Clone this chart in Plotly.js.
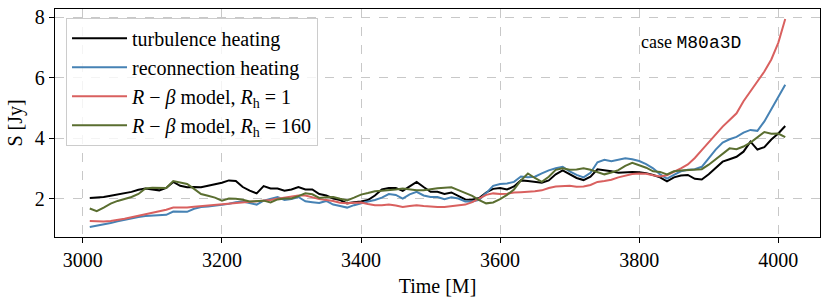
<!DOCTYPE html>
<html>
<head>
<meta charset="utf-8">
<script src="https://cdn.plot.ly/plotly-3.0.1.min.js"></script>
<style>html,body{margin:0;padding:0;background:#fff;}#chart{width:830px;height:301px;}</style>
</head>
<body>
<div id="chart"></div>
<script>
const times = [3010,3020,3030,3040,3050,3060,3070,3080,3090,3100,3110,3120,3130,3140,3150,3160,3170,3180,3190,3200,3210,3220,3230,3240,3250,3260,3270,3280,3290,3300,3310,3320,3330,3340,3350,3360,3370,3380,3390,3400,3410,3420,3430,3440,3450,3460,3470,3480,3490,3500,3510,3520,3530,3540,3550,3560,3570,3580,3590,3600,3610,3620,3630,3640,3650,3660,3670,3680,3690,3700,3710,3720,3730,3740,3750,3760,3770,3780,3790,3800,3810,3820,3830,3840,3850,3860,3870,3880,3890,3900,3910,3920,3930,3940,3950,3960,3970,3980,3990,4000,4010];

const turbulence = [2.02,2.03,2.05,2.09,2.13,2.17,2.22,2.29,2.33,2.30,2.27,2.35,2.55,2.42,2.37,2.38,2.37,2.42,2.47,2.52,2.60,2.58,2.38,2.26,2.17,2.41,2.33,2.33,2.26,2.30,2.38,2.30,2.30,2.15,2.10,2.00,1.95,1.84,1.88,1.90,1.95,2.10,2.30,2.35,2.35,2.25,2.40,2.55,2.38,2.22,2.22,2.15,2.20,2.08,1.97,1.96,2.02,2.20,2.32,2.35,2.30,2.40,2.60,2.58,2.55,2.52,2.60,2.80,2.93,2.80,2.68,2.61,2.72,2.97,2.94,2.90,2.85,2.87,2.88,2.87,2.84,2.78,2.70,2.57,2.70,2.76,2.78,2.65,2.63,2.80,3.02,3.22,3.30,3.38,3.55,3.88,3.62,3.70,3.95,4.15,4.40];

const reconnection = [1.06,1.10,1.14,1.19,1.25,1.30,1.35,1.39,1.42,1.43,1.44,1.46,1.57,1.56,1.56,1.66,1.72,1.74,1.76,1.79,1.83,1.88,1.90,1.85,1.80,1.93,1.98,2.05,1.95,1.98,2.05,1.91,1.88,1.85,1.92,1.80,1.75,1.70,1.78,1.85,1.90,1.95,2.03,2.15,2.12,2.00,2.14,2.22,2.10,2.05,2.05,1.98,2.04,2.00,1.90,1.90,1.96,2.18,2.42,2.48,2.50,2.55,2.73,2.70,2.72,2.83,2.93,3.00,3.05,2.90,2.78,2.70,2.85,3.20,3.28,3.23,3.27,3.33,3.30,3.24,3.14,3.00,2.80,2.66,2.78,2.90,2.95,2.97,3.05,3.35,3.62,3.85,3.96,4.04,4.18,4.27,4.24,4.55,4.95,5.35,5.76];

const rbeta1 = [1.26,1.24,1.24,1.26,1.29,1.33,1.38,1.43,1.47,1.52,1.57,1.63,1.70,1.70,1.70,1.73,1.75,1.76,1.77,1.79,1.81,1.83,1.85,1.87,1.89,1.92,1.95,1.99,2.03,2.07,2.10,2.10,2.04,1.98,1.95,1.92,1.86,1.84,1.86,1.87,1.82,1.78,1.78,1.80,1.77,1.72,1.75,1.78,1.75,1.73,1.72,1.72,1.74,1.76,1.80,1.88,2.00,2.12,2.17,2.15,2.16,2.20,2.21,2.22,2.24,2.27,2.35,2.40,2.42,2.42,2.39,2.40,2.45,2.55,2.58,2.62,2.70,2.76,2.81,2.83,2.82,2.77,2.73,2.77,2.88,3.00,3.13,3.34,3.60,3.87,4.12,4.38,4.60,4.82,5.22,5.55,5.85,6.20,6.60,7.15,7.94];

const rbeta160 = [1.67,1.58,1.70,1.83,1.92,1.99,2.05,2.15,2.33,2.36,2.35,2.35,2.58,2.53,2.48,2.32,2.15,2.09,2.03,1.93,2.00,1.99,1.96,1.90,1.92,1.93,1.87,1.97,2.00,2.00,2.08,2.17,2.14,2.02,2.04,2.05,1.99,1.94,2.03,2.13,2.18,2.24,2.26,2.27,2.30,2.33,2.29,2.27,2.27,2.31,2.34,2.36,2.37,2.28,2.18,2.09,1.95,1.84,1.87,1.98,2.12,2.30,2.60,2.83,2.68,2.55,2.72,2.95,3.00,2.95,2.96,3.00,2.95,2.87,2.80,2.86,2.94,3.08,3.18,3.10,3.02,2.90,2.88,2.80,2.90,2.93,2.94,2.94,2.97,3.12,3.30,3.48,3.66,3.63,3.72,3.85,4.02,4.20,4.14,4.15,4.03];

const seriesNames = ['turbulence heating','reconnection heating','<i>R</i> − <i>β</i> model, <i>R</i><sub>h</sub> = 1','<i>R</i> − <i>β</i> model, <i>R</i><sub>h</sub> = 160'];
const seriesColors = ['#000000','#4682b4','#d9605f','#5a6e30'];
const seriesData = [turbulence, reconnection, rbeta1, rbeta160];
const xTicks = [3000,3200,3400,3600,3800,4000];
const yTicks = [2,4,6,8];

const serif = 'Liberation Serif';

const traces = seriesData.map((d,i)=>({
  x: times, y: d, type:'scatter', mode:'lines', name: seriesNames[i],
  legendgroup: 'g'+i,
  line:{color: seriesColors[i], width:2}
}));

const layout = {
  width:830, height:301,
  margin:{l:55, r:10, t:9, b:64},
  paper_bgcolor:'#fff', plot_bgcolor:'#fff',
  font:{family:serif, size:20, color:'#000'},
  showlegend:true,
  legend:{x:0.0144, y:0.962, xanchor:'left', yanchor:'top',
    bgcolor:'rgba(255,255,255,0.8)', bordercolor:'#cccccc', borderwidth:1,
    font:{size:20}, tracegroupgap:0, itemwidth:55},
  xaxis:{range:[2960,4060], tickvals:xTicks, ticks:'outside', ticklen:5, tickwidth:1, tickcolor:'#000',
    showline:true, linecolor:'#000', linewidth:1.2, mirror:true, zeroline:false,
    showgrid:true, gridcolor:'#c8c8c8', griddash:'dash', gridwidth:1,
    title:{text:'Time [M]', font:{size:20}, standoff:8}},
  yaxis:{range:[0.727,8.27], tickvals:yTicks, ticks:'outside', ticklen:5, tickwidth:1, tickcolor:'#000',
    showline:true, linecolor:'#000', linewidth:1.2, mirror:true, zeroline:false,
    showgrid:true, gridcolor:'#c8c8c8', griddash:'dash', gridwidth:1,
    title:{text:'S [Jy]', font:{size:20}, standoff:6}},
  annotations:[{xref:'paper', yref:'paper', x:0.763, y:0.855, xanchor:'left', yanchor:'middle', showarrow:false,
    text:'case <span style="font-family:Liberation Mono">M80a3D</span>',
    font:{size:18}}]
};

Plotly.newPlot('chart', traces, layout, {displayModeBar:false, staticPlot:true});
</script>
</body>
</html>
